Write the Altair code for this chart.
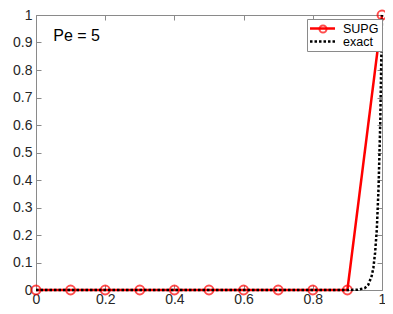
import altair as alt
import pandas as pd

# ---- data ----
supg_x = [0.0, 0.1, 0.2, 0.3, 0.4, 0.5, 0.6, 0.7, 0.8, 0.9, 1.0]
supg_y = [0.0, 0.0, 0.0, 0.0, 0.0, 0.0, 0.0, 0.0, 0.0, 0.0, 1.0]
exact_x = [0.0, 0.5, 0.9, 0.93, 0.95, 0.96, 0.97, 0.975, 0.98, 0.985, 0.99, 0.995, 1.0]
exact_y = [0.0, 0.0, 0.0, 0.001, 0.007, 0.018, 0.05, 0.08, 0.135, 0.22, 0.37, 0.61, 1.0]
x_ticks = [0, 0.2, 0.4, 0.6, 0.8, 1]
y_ticks = [0, 0.1, 0.2, 0.3, 0.4, 0.5, 0.6, 0.7, 0.8, 0.9, 1]
series = ["SUPG", "exact"]
series_colors = ["#ff0000", "#000000"]
annot_text = ["Pe = 5"]
annot_x = [0.05]
annot_y = [0.924]

W, H = 346, 275
FONT = "Liberation Sans"
AXC = "#8a8a8a"
TXC = "#262626"

df_s = pd.DataFrame({"x": supg_x, "y": supg_y, "method": series[0]})
df_e = pd.DataFrame({"x": exact_x, "y": exact_y, "method": series[1]})
df_a = pd.DataFrame({"x": annot_x, "y": annot_y, "t": annot_text})

xs = alt.Scale(domain=[0, 1], nice=False, zero=False)
ys = alt.Scale(domain=[0, 1], nice=False, zero=False)

lab_x = alt.Axis(values=x_ticks, orient="bottom", domain=False, ticks=False, grid=False,
                 labelFontSize=14, labelFont=FONT, labelColor=TXC, labelPadding=2,
                 title=None, labelFlush=False, format="~g")
lab_y = alt.Axis(values=y_ticks, orient="left", domain=False, ticks=False, grid=False,
                 labelFontSize=14, labelFont=FONT, labelColor=TXC, labelPadding=4,
                 title=None, labelFlush=False, format="~g")


def tick_axis(vals, orient, offset):
    return alt.Axis(values=vals, orient=orient, offset=offset, labels=False, ticks=True,
                    tickSize=5, tickColor=AXC, domain=True, domainColor=AXC,
                    grid=False, title=None)


LX, LY = 271, 4
main_legend = alt.Legend(
    title=None, orient="none", legendX=LX, legendY=LY,
    strokeColor=AXC, fillColor="white", padding=3,
    labelFont=FONT, labelFontSize=12.5, labelColor="#000000",
    labelOffset=14, rowPadding=0, symbolSize=110.25, symbolOffset=6,
    symbolStrokeWidth=2.5, symbolType="M-2.38,0L2.38,0")

color = alt.Color("method:N", scale=alt.Scale(domain=series, range=series_colors),
                  legend=main_legend)
dash = alt.StrokeDash("method:N", scale=alt.Scale(domain=series, range=[[1, 0], [2.5, 2]]),
                      legend=main_legend)

marker_legend = alt.Legend(
    title=None, orient="none", legendX=LX + 11, legendY=LY + 5, padding=0,
    labelOpacity=0, labelFontSize=1, symbolSize=50, symbolStrokeWidth=2,
    symbolStrokeColor="#ff0000", symbolFillColor="white", symbolType="circle")

supg_line = alt.Chart(df_s).mark_line(strokeWidth=2.5).encode(
    x=alt.X("x:Q", scale=xs, axis=lab_x),
    y=alt.Y("y:Q", scale=ys, axis=lab_y),
    color=color, strokeDash=dash)

supg_pts = alt.Chart(df_s).mark_point(filled=False, size=80,
                                      strokeWidth=2, color="#ff0000").encode(
    x=alt.X("x:Q", scale=xs, axis=tick_axis(x_ticks, "top", -H)),
    y=alt.Y("y:Q", scale=ys, axis=tick_axis(y_ticks, "right", -W)),
    shape=alt.Shape("method:N", scale=alt.Scale(domain=[series[0]], range=["circle"]),
                    legend=marker_legend))

exact_line = alt.Chart(df_e).mark_line(strokeWidth=2.5).encode(
    x=alt.X("x:Q", scale=xs, axis=tick_axis(x_ticks, "bottom", -H)),
    y=alt.Y("y:Q", scale=ys, axis=tick_axis(y_ticks, "left", -W)),
    color=color, strokeDash=dash)

text = alt.Chart(df_a).mark_text(align="left", baseline="middle", fontSize=16,
                                 font=FONT, color="#000000").encode(
    x=alt.X("x:Q", scale=xs, axis=None),
    y=alt.Y("y:Q", scale=ys, axis=None),
    text="t:N")

chart = alt.layer(supg_line, supg_pts, exact_line, text).resolve_axis(
    x="independent", y="independent"
).properties(
    width=W, height=H,
    autosize=alt.AutoSizeParams(type="none"),
    padding={"left": 28, "top": 7, "right": 3, "bottom": 16},
).configure_view(stroke=None).configure(background="white")

chart.save("out.html", embed_options={"renderer": "svg", "actions": False})
